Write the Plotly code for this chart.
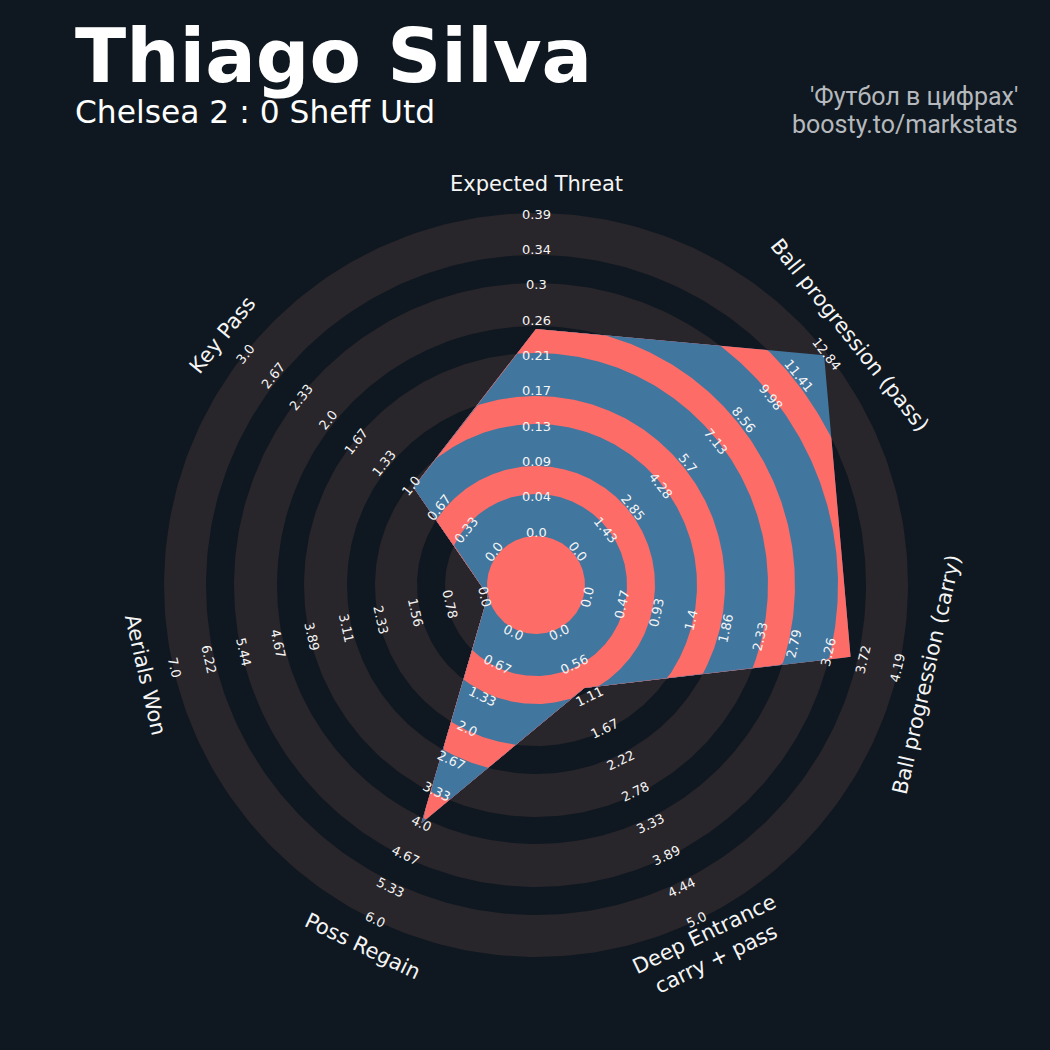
import numpy as np
import plotly.graph_objects as go

# radar data, clockwise from the top
params = ["Expected Threat", "Ball progression (pass)", "Ball progression (carry)",
          "Deep Entrance<br>carry + pass", "Poss Regain", "Aerials Won", "Key Pass"]
low = [0.0, 0.0, 0.0, 0.0, 0.0, 0.0, 0.0]
high = [0.39, 12.84, 4.19, 5.0, 6.0, 7.0, 3.0]
values = [0.25, 12.7, 3.55, 1.0, 4.0, 0.0, 1.0]

range_labels = [
    ["0.0", "0.04", "0.09", "0.13", "0.17", "0.21", "0.26", "0.3", "0.34", "0.39"],
    ["0.0", "1.43", "2.85", "4.28", "5.7", "7.13", "8.56", "9.98", "11.41", "12.84"],
    ["0.0", "0.47", "0.93", "1.4", "1.86", "2.33", "2.79", "3.26", "3.72", "4.19"],
    ["0.0", "0.56", "1.11", "1.67", "2.22", "2.78", "3.33", "3.89", "4.44", "5.0"],
    ["0.0", "0.67", "1.33", "2.0", "2.67", "3.33", "4.0", "4.67", "5.33", "6.0"],
    ["0.0", "0.78", "1.56", "2.33", "3.11", "3.89", "4.67", "5.44", "6.22", "7.0"],
    ["0.0", "0.33", "0.67", "1.0", "1.33", "1.67", "2.0", "2.33", "2.67", "3.0"],
]

title = "Thiago Silva"
subtitle = "Chelsea 2 : 0 Sheff Utd"
credits = ["'Футбол в цифрах'", "boosty.to/markstats"]

# layout (pixel units, radar centre at 0,0)
W = H = 1050
CX, CY = 536, 585
R_MIN, R_MAX = 49, 372
RING_EDGES = [372, 330, 302, 259, 232, 189, 161, 119, 91, 49]
BG = "#0f1820"
RING = "#28252b"
RED = "#fe6c67"
BLUE = "#41769f"
FONT = "DejaVu Sans"

n = len(params)
compass = np.arange(n) * 360 / n
theta = np.deg2rad(90 - compass)

radius = np.array([R_MIN + (v - lo) / (hi - lo) * (R_MAX - R_MIN)
                   for v, lo, hi in zip(values, low, high)])
vx = radius * np.cos(theta)
vy = radius * np.sin(theta)

# polygon boundary in polar form, so it can be clipped by each ring
ang, rad = [], []
for i in range(n):
    j = (i + 1) % n
    px_, py_ = vx[i], vy[i]
    ex, ey = vx[j] - px_, vy[j] - py_
    t = np.linspace(theta[i], theta[i] - 2 * np.pi / n, 90)
    r = (px_ * ey - py_ * ex) / (np.cos(t) * ey - np.sin(t) * ex)
    ang.extend(t)
    rad.extend(r)
ang = np.array(ang)
rad = np.array(rad)

fig = go.Figure()


def blob(x, y, color):
    fig.add_trace(go.Scatter(x=x, y=y, mode="lines", fill="toself", fillcolor=color,
                             line=dict(width=0, color=color), hoverinfo="skip",
                             showlegend=False))


circ = np.linspace(0, 2 * np.pi, 361)
for k, edge in enumerate(RING_EDGES[:-1]):
    blob(edge * np.cos(circ), edge * np.sin(circ), RING if k % 2 == 0 else BG)

for k, edge in enumerate(RING_EDGES):
    r = np.minimum(rad, edge)
    blob(r * np.cos(ang), r * np.sin(ang), BLUE if k % 2 == 0 else RED)


def rot(c):
    c = c % 360
    if 90 < c < 270:
        c -= 180
    if c > 180:
        c -= 360
    return c


annotations = []
label_r = np.linspace(53, 371, 10)
for i in range(n):
    a = rot(compass[i])
    annotations.append(dict(x=401 * np.cos(theta[i]), y=401 * np.sin(theta[i]),
                            text=params[i], textangle=a, showarrow=False,
                            font=dict(family=FONT, size=21, color="#f5f5f5")))
    for rr, lab in zip(label_r, range_labels[i]):
        annotations.append(dict(x=rr * np.cos(theta[i]), y=rr * np.sin(theta[i]),
                                text=lab, textangle=a, showarrow=False,
                                font=dict(family=FONT, size=13, color="#f5f5f5")))

annotations += [
    dict(x=73 - CX, y=CY - 56, text="<b>" + title + "</b>", xanchor="left",
         showarrow=False, font=dict(family=FONT, size=75, color="white")),
    dict(x=73 - CX, y=CY - 112, text=subtitle, xanchor="left",
         showarrow=False, font=dict(family=FONT, size=31.3, color="white")),
    dict(x=1020 - CX, y=CY - 96.5, text=credits[0], xanchor="right",
         showarrow=False, font=dict(family="Roboto", size=25, color="#b5b9bd")),
    dict(x=1020 - CX, y=CY - 124, text=credits[1], xanchor="right",
         showarrow=False, font=dict(family="Roboto", size=25, color="#b5b9bd")),
]

fig.update_layout(width=W, height=H, margin=dict(l=0, r=0, t=0, b=0),
                  paper_bgcolor=BG, plot_bgcolor=BG,
                  xaxis=dict(range=[-CX, W - CX], visible=False),
                  yaxis=dict(range=[CY - H, CY], visible=False),
                  annotations=annotations)

fig.write_html("out.html", config={"displayModeBar": False},
               post_script="document.body.style.margin='0';"
                           "document.body.style.background='" + BG + "';")
